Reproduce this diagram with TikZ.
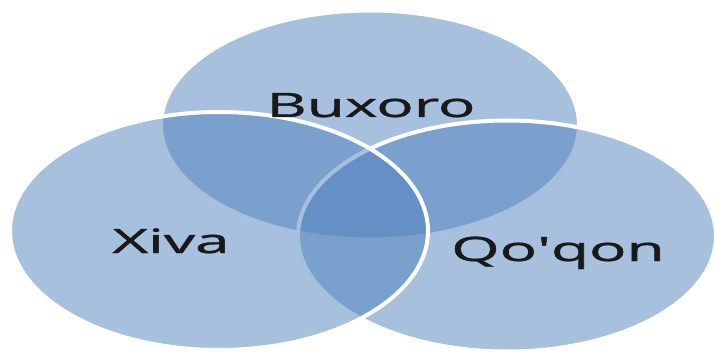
\documentclass[tikz,border=0pt]{standalone}
\usepackage{fontspec}
\usetikzlibrary{shapes.geometric}
\newfontfamily\vennfont[FakeBold=1]{Open Sans}
\definecolor{vennblue}{HTML}{4F81BD}

\begin{document}
\begin{tikzpicture}[x=1pt, y=1pt]
        \tikzstyle{venn}=[ellipse, fill=vennblue, fill opacity=0.5, draw=white, draw opacity=1, line width=4pt, minimum width=418pt, inner sep=0pt]
        \tikzstyle{vennlabel}=[anchor=base, inner sep=0pt, text=black!90, font=\vennfont\fontsize{33.6}{40}\selectfont]
        
        \useasboundingbox (0,0) rectangle (715,354);
        
        % drawn back to front
        \node   (buxoro)   [venn, minimum height=229pt] at (370,229) {};
        \node   (qoqon)    [venn, minimum height=231pt] at (507,118) {};
        \node   (xiva)     [venn, minimum height=238pt] at (219,123) {};
        
        \node   (buxorolabel)   [vennlabel] at (371,237) {\scalebox{1.85}[1]{Buxoro}};
        \node   (xivalabel)     [vennlabel] at (171,101) {\scalebox{1.85}[1]{Xiva}};
        \node   (qoqonlabel)    [vennlabel] at (558,93)  {\scalebox{1.85}[1]{Qo\textquotesingle qon}};
        
    \end{tikzpicture}
\end{document}
